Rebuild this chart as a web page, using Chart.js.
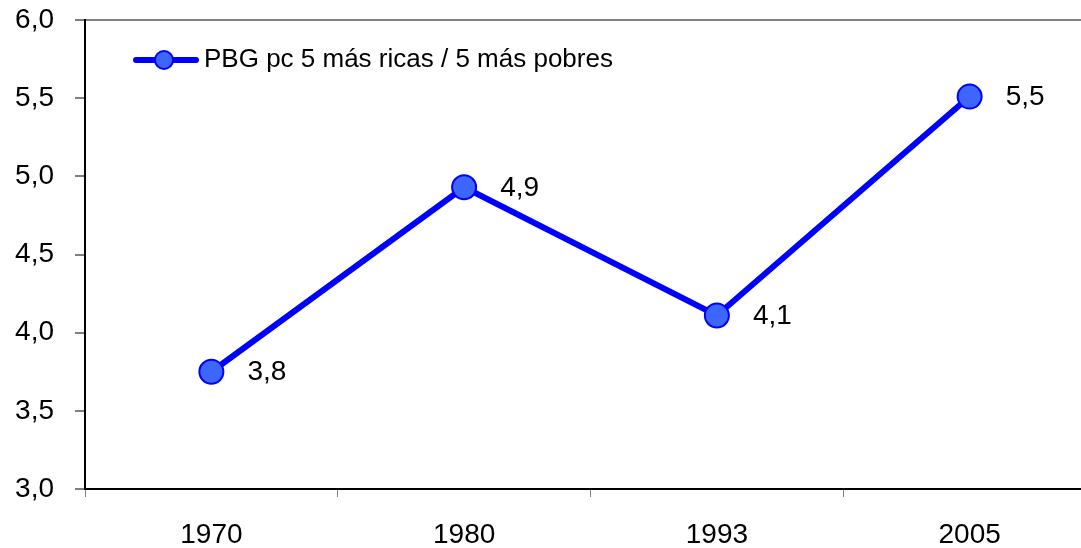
<!DOCTYPE html>
<html>
<head>
<meta charset="utf-8">
<script src="https://cdn.jsdelivr.net/npm/chart.js@4/dist/chart.umd.min.js"></script>
<style>
  html, body { margin: 0; padding: 0; background: #fff; overflow: hidden; }
  #wrap { width: 1081px; height: 548px; overflow: hidden; }
  #inner { width: 1096px; height: 548px; }
  #chart { display: block; }
</style>
</head>
<body>
<div id="wrap"><div id="inner"><canvas id="chart" width="1096" height="548"></canvas></div></div>
<script>
// --- datos ---
const years = ['1970', '1980', '1993', '2005'];
const ratio = [3.75, 4.93, 4.11, 5.51];
const serieLabel = 'PBG pc 5 más ricas / 5 más pobres';
const yTicks = [3.0, 3.5, 4.0, 4.5, 5.0, 5.5, 6.0];

const FONT = '"Liberation Sans", Arial, sans-serif';
const fmt = v => v.toFixed(1).replace('.', ',');

// etiquetas de datos a la derecha de cada punto
const dataLabels = {
    id: 'dataLabels',
    afterDatasetsDraw(chart) {
        const ctx = chart.ctx;
        const meta = chart.getDatasetMeta(0);
        ctx.save();
        ctx.font = '28px ' + FONT;
        ctx.fillStyle = '#000';
        ctx.textAlign = 'left';
        ctx.textBaseline = 'middle';
        meta.data.forEach((pt, i) => {
            ctx.fillText(fmt(ratio[i]), pt.x + 36, pt.y + 1);
        });
        ctx.restore();
    }
};

// leyenda tipo Excel: línea con marcador
const legendBox = {
    id: 'legendBox',
    afterDraw(chart) {
        const ctx = chart.ctx;
        const y = 60;
        ctx.save();
        ctx.strokeStyle = '#0000FF';
        ctx.lineWidth = 6;
        ctx.lineCap = 'round';
        ctx.beginPath();
        ctx.moveTo(136, y);
        ctx.lineTo(196, y);
        ctx.stroke();
        ctx.beginPath();
        ctx.arc(164, y, 9, 0, Math.PI * 2);
        ctx.fillStyle = '#3D66FF';
        ctx.fill();
        ctx.lineWidth = 2;
        ctx.strokeStyle = '#0000FF';
        ctx.stroke();
        ctx.font = '26px ' + FONT;
        ctx.fillStyle = '#000';
        ctx.textAlign = 'left';
        ctx.textBaseline = 'middle';
        ctx.fillText(serieLabel, 204, y);
        ctx.restore();
    }
};

new Chart(document.getElementById('chart'), {
    type: 'line',
    data: {
        labels: years,
        datasets: [{
            label: serieLabel,
            data: ratio,
            borderColor: '#0000FF',
            borderWidth: 6,
            backgroundColor: '#3D66FF',
            pointBackgroundColor: '#3D66FF',
            pointBorderColor: '#0000FF',
            pointBorderWidth: 2,
            pointRadius: 12,
            tension: 0,
            clip: false
        }]
    },
    options: {
        responsive: false,
        animation: false,
        // sin auto-padding: el área llega hasta 1096 px y se corta en el borde, como en el original
        layout: { autoPadding: false, padding: { top: 20, left: 0, right: 0, bottom: 0 } },
        plugins: {
            legend: { display: false },
            tooltip: { enabled: false }
        },
        scales: {
            x: {
                offset: true,
                grid: {
                    offset: true,
                    drawOnChartArea: false,
                    tickLength: 8,
                    tickColor: '#808080'
                },
                border: { color: '#000', width: 2 },
                ticks: {
                    color: '#000',
                    font: { family: FONT, size: 28 },
                    padding: 21,
                    maxRotation: 0
                },
                afterFit(scale) {
                    scale.height = 59;
                    scale.paddingLeft = 0;
                    scale.paddingRight = 0;
                }
            },
            y: {
                min: 3,
                max: 6,
                afterBuildTicks(scale) { scale.ticks = yTicks.map(v => ({ value: v })); },
                grid: {
                    color: c => (c.tick && c.tick.value === 6 ? '#808080' : 'rgba(0,0,0,0)'),
                    lineWidth: 2,
                    tickLength: 10,
                    tickColor: '#808080'
                },
                border: { color: '#000', width: 2 },
                ticks: {
                    color: '#000',
                    font: { family: FONT, size: 28 },
                    padding: 21,
                    callback: v => fmt(v)
                },
                afterFit(scale) {
                    scale.width = 85;
                    scale.paddingTop = 0;
                    scale.paddingBottom = 0;
                }
            }
        }
    },
    plugins: [dataLabels, legendBox]
});
</script>
</body>
</html>
